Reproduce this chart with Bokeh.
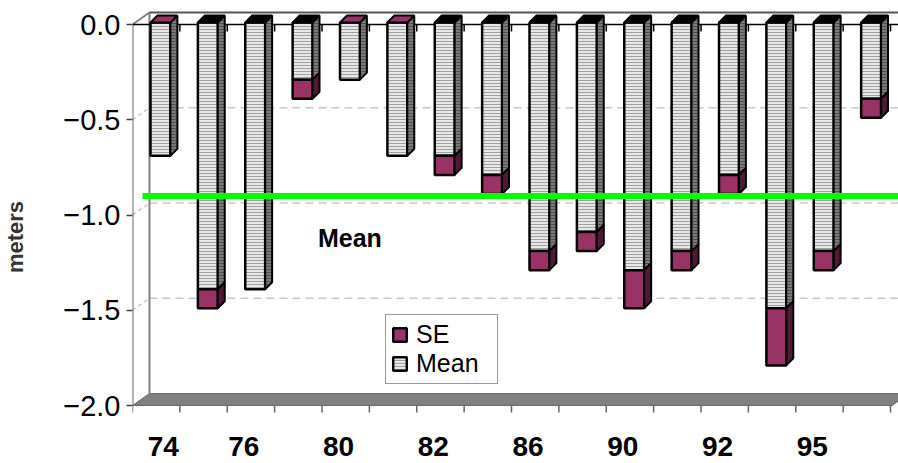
from bokeh.plotting import figure
from bokeh.models import Range1d, FixedTicker, Legend, LegendItem, Label
from bokeh.core.properties import value
from bokeh.embed import file_html
from bokeh.resources import INLINE

# ---------------- data ----------------
mean = [-0.7, -1.4, -1.4, -0.3, -0.3, -0.7, -0.7, -0.8,
        -1.2, -1.1, -1.3, -1.2, -0.8, -1.5, -1.2, -0.4]
se = [0.0, 0.1, 0.0, 0.1, 0.0, 0.0, 0.1, 0.1,
      0.1, 0.1, 0.2, 0.1, 0.1, 0.3, 0.1, 0.1]
tick_labels = ["74", "76", "80", "82", "86", "90", "92", "95"]
tick_label_bars = [0, 2, 4, 6, 8, 10, 12, 14]
y_ticks = [0.0, -0.5, -1.0, -1.5, -2.0]
y_tick_labels = ["0.0", "\u22120.5", "\u22121.0", "\u22121.5", "\u22122.0"]
overall_mean = -0.90
mean_text = "Mean"
y_title = "meters"

# ---------------- layout ----------------
W, H = 898, 463
LEFT, TOP = 130, 10
XU, YU = 47.5, 190.5          # px per unit
Y0PX = 24                     # pixel row of value 0 on the front plane
x_max = (W - LEFT) / XU
y_top = (Y0PX - TOP) / YU
y_bot = -(H - Y0PX) / YU
SANS = "Liberation Sans"

p = figure(width=W, height=H, x_range=Range1d(0, x_max), y_range=Range1d(y_bot, y_top),
           x_axis_location=None, y_axis_location="left",
           output_backend="svg", toolbar_location=None,
           min_border_left=LEFT, min_border_right=0, min_border_top=TOP, min_border_bottom=0)
p.grid.visible = False
p.outline_line_color = None
p.background_fill_color = "white"
p.border_fill_color = "white"

# y axis
ya = p.yaxis[0]
ya.ticker = FixedTicker(ticks=y_ticks, minor_ticks=[])
ya.major_label_overrides = {t: s for t, s in zip(y_ticks, y_tick_labels)}
ya.axis_line_color = None
ya.major_tick_out = 6
ya.major_tick_in = 0
ya.major_tick_line_color = "#444444"
ya.major_tick_line_width = 1.5
ya.minor_tick_line_color = None
ya.major_label_text_font = SANS
ya.major_label_text_font_size = "29px"
ya.major_label_text_color = "black"
ya.major_label_standoff = 6
ya.axis_label = y_title
ya.axis_label_text_font = SANS
ya.axis_label_text_font_style = "bold"
ya.axis_label_text_font_size = "22px"
ya.axis_label_text_color = "#333333"
ya.axis_label_standoff = 32

# ---------------- 3D walls / floor ----------------
WX, WY = 17 / XU, 12 / YU
gray = "#808080"
p.patch([0, WX, x_max + 0.2, 16.04], [-2, -2 + WY, -2 + WY, -2],
        fill_color=gray, line_color="#6a6a6a", line_width=1)
grid_vals = [-0.5, -1.0, -1.5]
p.segment(x0=[WX] * 3, y0=[v + WY for v in grid_vals], x1=[x_max] * 3, y1=[v + WY for v in grid_vals],
          line_color="#c8c8c8", line_width=1.5, line_dash="8 5")
p.segment(x0=[0] * 3, y0=grid_vals, x1=[WX] * 3, y1=[v + WY for v in grid_vals],
          line_color="#c8c8c8", line_width=1.5, line_dash="4 3")
# wall edges
p.segment(x0=[0, WX, 0, WX], y0=[0, WY, 0, WY], x1=[0, WX, WX, x_max], y1=[-2, -2 + WY, WY, WY],
          line_color=["#6a6a6a", gray, gray, "#555555"], line_width=2)
# zero line with ticks
p.segment(x0=[0], y0=[0], x1=[x_max], y1=[0], line_color="black", line_width=1.5)
n = len(mean)
p.segment(x0=list(range(1, n + 1)), y0=[0] * n, x1=list(range(1, n + 1)), y1=[-7 / YU] * n,
          line_color="black", line_width=1.5)
# category ticks below floor
p.segment(x0=list(range(0, n + 1)), y0=[-2] * (n + 1), x1=list(range(0, n + 1)), y1=[-2 - 7 / YU] * (n + 1),
          line_color="#666666", line_width=1.5)

# ---------------- bars ----------------
BL, BR = 0.38, 0.80
DX, DY = 7 / XU, 7 / YU
ZS = 2 / YU
maroon, maroon_dark = "#993366", "#4f1a35"
lefts = [i + BL for i in range(n)]
rights = [i + BR for i in range(n)]
m_top = [ZS] * n
m_bot = [m + ZS for m in mean]
s_top = m_bot
s_bot = [m - s + ZS for m, s in zip(mean, se)]

mean_front = p.quad(left=lefts, right=rights, top=m_top, bottom=m_bot,
                    fill_color="#e8e8e8", hatch_pattern="-", hatch_color="#a0a0a0",
                    hatch_scale=3, hatch_weight=1, line_color="black", line_width=2.5)
p.patches(xs=[[r, r + DX, r + DX, r] for r in rights],
          ys=[[t, t + DY, b + DY, b] for t, b in zip(m_top, m_bot)],
          fill_color="#7a7a7a", hatch_pattern="-", hatch_color="#505050", hatch_scale=3,
          hatch_weight=1, line_color="black", line_width=2)
se_idx = [i for i in range(n) if se[i] > 0]
se_front = p.quad(left=[lefts[i] for i in se_idx], right=[rights[i] for i in se_idx],
                  top=[s_top[i] for i in se_idx], bottom=[s_bot[i] for i in se_idx],
                  fill_color=maroon, line_color="black", line_width=2.5)
p.patches(xs=[[rights[i], rights[i] + DX, rights[i] + DX, rights[i]] for i in se_idx],
          ys=[[s_top[i], s_top[i] + DY, s_bot[i] + DY, s_bot[i]] for i in se_idx],
          fill_color=maroon_dark, line_color="black", line_width=2)
top_fill = [maroon if i in (0, 4, 5) else "black" for i in range(n)]
p.patches(xs=[[l, l + DX, r + DX, r] for l, r in zip(lefts, rights)],
          ys=[[t, t + DY, t + DY, t] for t in m_top],
          fill_color=top_fill, line_color="black", line_width=2)

# ---------------- overall mean line ----------------
p.segment(x0=[10 / XU], y0=[overall_mean], x1=[x_max], y1=[overall_mean],
          line_color="#00ff00", line_width=6)
p.add_layout(Label(x=(348 - LEFT) / XU, y=-(237 - Y0PX) / YU, text=mean_text,
                   text_font=SANS, text_font_style="bold", text_font_size="25px",
                   text_align="center", text_baseline="middle", text_color="black"))

# ---------------- category labels ----------------
label_x = [b + 0.35 for b in tick_label_bars]
label_x[0] += 0.3
p.text(x=label_x, y=[-(446 - Y0PX) / YU] * len(tick_labels), text=tick_labels,
       text_font=value(SANS), text_font_style="bold", text_font_size="28px",
       text_align="center", text_baseline="middle", text_color="black")

# ---------------- legend ----------------
legend = Legend(items=[LegendItem(label="SE", renderers=[se_front]),
                       LegendItem(label="Mean", renderers=[mean_front])],
                location=(253, 79), orientation="vertical",
                label_text_font=SANS, label_text_font_size="25px", label_text_color="black",
                glyph_width=17, glyph_height=17, label_standoff=8, spacing=0, label_width=76,
                padding=5, margin=0, border_line_color="#333333", border_line_width=1.5,
                background_fill_color="white", background_fill_alpha=1)
p.add_layout(legend)

open("out.html", "w").write(file_html(p, INLINE))
